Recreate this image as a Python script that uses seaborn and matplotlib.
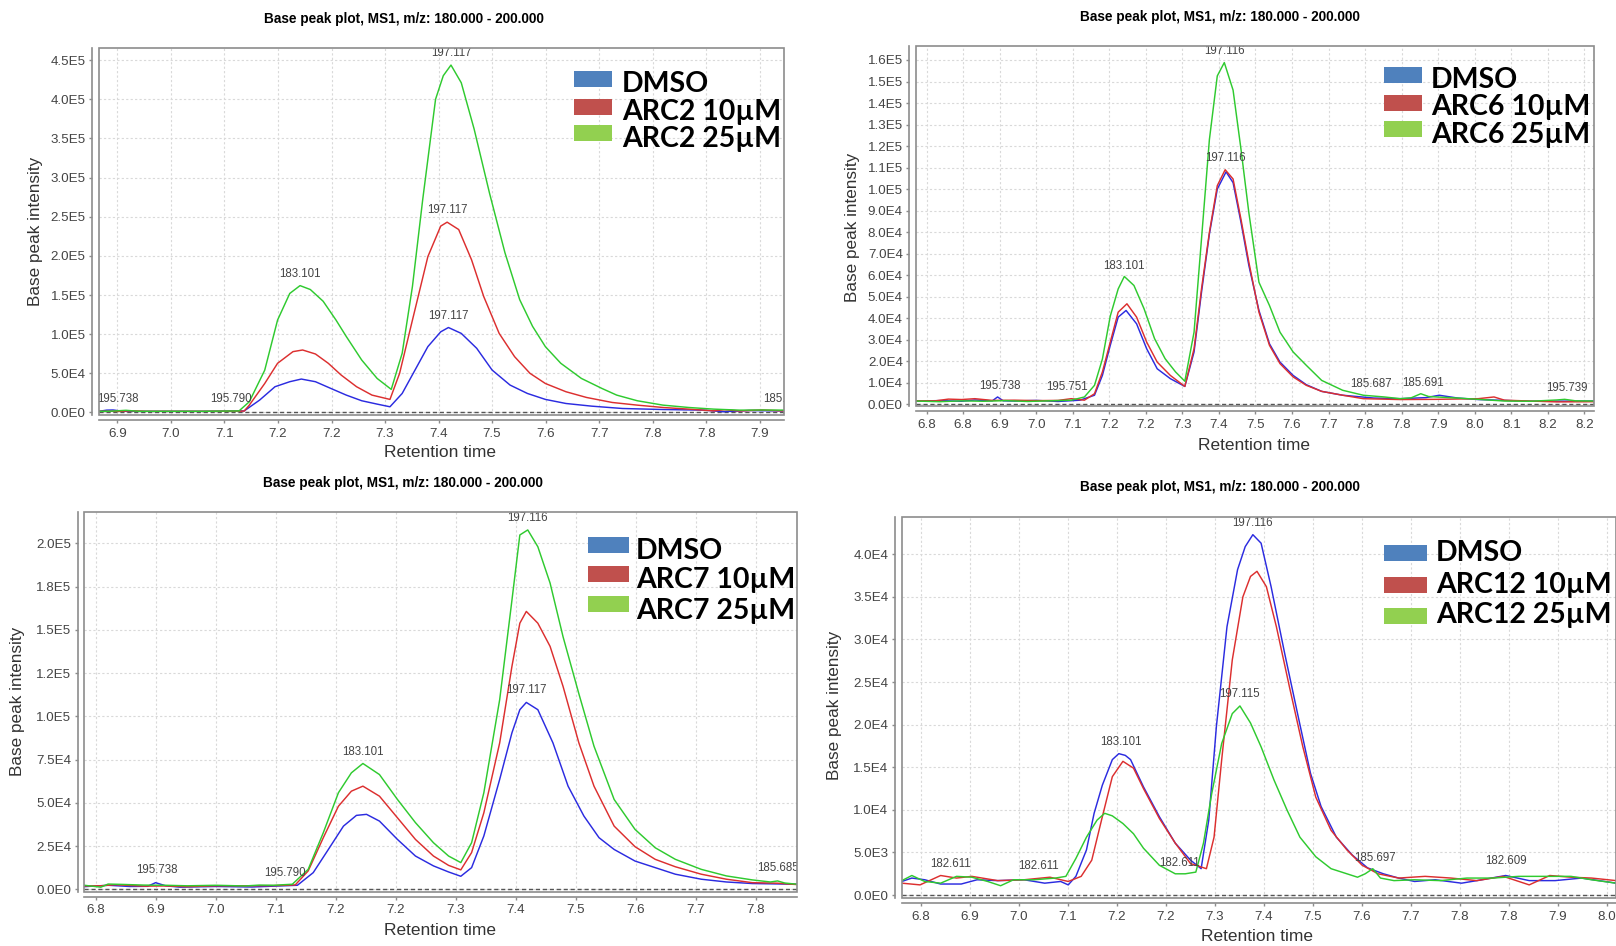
import matplotlib

matplotlib.use("Agg")
import matplotlib.pyplot as plt
import numpy as np
import pandas as pd
import seaborn as sns
from matplotlib.patches import Rectangle

W, H = 1616, 946
TITLE = "Base peak plot, MS1, m/z: 180.000 - 200.000"
LINE_COLORS = ["#2b2be0", "#dc2f2f", "#2fca2f"]
LEGEND_COLORS = ["#4f81bd", "#c0504d", "#92d050"]

# ---- ARC2 panel (intensities in thousands) ----
arc2_legend = ["DMSO", "ARC2 10µM", "ARC2 25µM"]
arc2_dmso_t = [6.888, 6.9, 6.91, 6.925, 6.95, 7.0, 7.05, 7.114, 7.138, 7.162, 7.185, 7.203, 7.225, 7.249,
               7.273, 7.297, 7.321, 7.341, 7.360, 7.380, 7.400, 7.420, 7.432, 7.452, 7.476, 7.500, 7.528,
               7.555, 7.583, 7.615, 7.655, 7.703, 7.766, 7.830, 7.86, 7.9, 7.954]
arc2_dmso_k = [1.5, 3.0, 3.2, 1.5, 1.5, 1.5, 1.5, 2.0, 15.8, 32.9, 39.3, 42.7, 39.3, 30.7,
               22.2, 15.0, 10.7, 7.3, 24.3, 54.2, 84.1, 103, 108.5, 101, 82, 54.2, 35,
               24.3, 16.7, 11.5, 8.1, 5.1, 3.8, 3.0, 1.0, 2.5, 2.0]
arc2_10_t = [6.888, 6.92, 6.94, 6.96, 7.0, 7.05, 7.114, 7.122, 7.146, 7.166, 7.190, 7.205, 7.225, 7.245,
             7.265, 7.289, 7.313, 7.341, 7.356, 7.376, 7.400, 7.420, 7.430, 7.448, 7.468, 7.487, 7.511,
             7.535, 7.559, 7.583, 7.615, 7.647, 7.687, 7.726, 7.766, 7.806, 7.845, 7.862, 7.885, 7.92, 7.954]
arc2_10_k = [1.5, 1.5, 2.2, 1.5, 1.5, 1.5, 1.8, 9.4, 37, 62.8, 77.7, 79.8, 74.7, 62.8,
             47.8, 32.9, 22.2, 16.7, 50, 118, 199, 238, 243, 233.6, 195, 148, 101,
             71.3, 50, 37, 26.5, 19.2, 12.8, 9.4, 6.4, 4.3, 2.1, 3.5, 2.0, 3.2, 2.0]
arc2_25_t = [6.888, 6.905, 6.93, 6.95, 7.0, 7.05, 7.106, 7.122, 7.146, 7.166, 7.185, 7.201, 7.217, 7.237,
             7.257, 7.273, 7.297, 7.321, 7.343, 7.360, 7.376, 7.392, 7.412, 7.424, 7.436, 7.452, 7.472,
             7.496, 7.520, 7.543, 7.563, 7.583, 7.607, 7.639, 7.671, 7.694, 7.726, 7.766, 7.806, 7.845,
             7.885, 7.92, 7.954]
arc2_25_k = [1.5, 1.6, 2.8, 1.5, 1.5, 1.5, 2.0, 13.7, 54, 118, 152, 162, 157, 142,
             118, 97, 67, 43.5, 29.5, 75.6, 161, 272, 400, 430, 443.6, 421, 362,
             280, 204, 144, 110, 84, 62.8, 43.5, 30.7, 22.2, 15, 9.4, 6.4, 4.3,
             3.0, 3.2, 3.0]
arc2_labels = ["195.738", "195.790", "183.101", "197.117", "197.117", "197.117", "185.687"]
arc2_label_t = [6.917, 7.094, 7.201, 7.436, 7.430, 7.432, 7.955]
arc2_label_k = [2.5, 1.5, 162, 443.6, 243, 108.5, 2.5]
arc2_xticks = ["6.9", "7.0", "7.1", "7.2", "7.2", "7.3", "7.4", "7.5", "7.6", "7.7", "7.8", "7.8", "7.9"]
arc2_yticks = ["0.0E0", "5.0E4", "1.0E5", "1.5E5", "2.0E5", "2.5E5", "3.0E5", "3.5E5", "4.0E5", "4.5E5"]

# ---- ARC6 panel ----
arc6_legend = ["DMSO", "ARC6 10µM", "ARC6 25µM"]
arc6_dmso_t = [6.726, 6.78, 6.83, 6.86, 6.9, 6.912, 6.925, 6.95, 7.0, 7.05, 7.1, 7.133, 7.151, 7.169,
               7.187, 7.205, 7.229, 7.252, 7.276, 7.306, 7.339, 7.360, 7.377, 7.395, 7.413, 7.433, 7.449,
               7.467, 7.485, 7.508, 7.532, 7.556, 7.586, 7.616, 7.651, 7.699, 7.770, 7.830, 7.889, 7.919,
               7.961, 8.008, 8.127, 8.276]
arc6_dmso_k = [1.5, 1.7, 1.4, 2.0, 1.6, 3.4, 1.6, 1.5, 1.8, 1.3, 1.9, 4.2, 13.4, 27.4,
               40.5, 43.6, 37.4, 25.8, 16.5, 11.9, 8.3, 24.3, 52, 79.1, 100, 108, 103,
               84.6, 64.5, 43.6, 28.1, 19.6, 13.4, 9.1, 6.0, 4.2, 2.9, 2.6, 3.1, 4.2,
               2.9, 2.2, 1.4, 1.5]
arc6_10_t = [6.726, 6.77, 6.8, 6.83, 6.86, 6.9, 6.95, 7.0, 7.05, 7.08, 7.110, 7.133, 7.151, 7.169,
             7.187, 7.207, 7.229, 7.252, 7.276, 7.306, 7.339, 7.360, 7.377, 7.395, 7.413, 7.431, 7.449,
             7.467, 7.485, 7.508, 7.532, 7.556, 7.586, 7.616, 7.651, 7.699, 7.746, 7.830, 7.913, 8.008,
             8.044, 8.068, 8.187, 8.276]
arc6_10_k = [1.6, 1.6, 2.4, 2.2, 2.6, 1.8, 1.9, 1.7, 1.8, 2.6, 1.9, 4.9, 15, 28.9,
             42.8, 46.7, 40.5, 28.9, 19.6, 13.4, 8.3, 25.8, 53.6, 79.9, 101.6, 109, 104.7,
             86, 66, 42.8, 27.4, 18.9, 12.7, 8.8, 6.0, 4.2, 2.6, 2.2, 2.3, 2.6,
             3.4, 1.9, 1.1, 1.2]
arc6_25_t = [6.726, 6.78, 6.83, 6.88, 6.93, 6.98, 7.03, 7.080, 7.110, 7.133, 7.151, 7.169, 7.187, 7.201,
             7.223, 7.246, 7.270, 7.294, 7.318, 7.339, 7.360, 7.377, 7.395, 7.413, 7.429, 7.449, 7.467,
             7.485, 7.508, 7.532, 7.556, 7.586, 7.616, 7.651, 7.699, 7.746, 7.794, 7.830, 7.855, 7.877,
             7.895, 7.913, 7.961, 8.008, 8.068, 8.127, 8.187, 8.205, 8.23, 8.276]
arc6_25_k = [1.5, 1.2, 1.6, 1.4, 1.7, 1.3, 1.6, 1.9, 3.4, 8.8, 21, 41, 53.6, 59.4,
             55.2, 44.4, 30.5, 21.2, 15, 10.7, 33.5, 76.8, 123, 152.6, 158.8, 146, 118.6,
             89, 56.7, 45.9, 33.5, 24.3, 18.1, 11.1, 6.5, 4.2, 3.4, 2.6, 3.0, 4.9,
             3.6, 3.4, 2.9, 2.3, 1.5, 1.4, 2.0, 2.3, 1.6, 1.5]
arc6_labels = ["195.738", "195.751", "183.101", "197.116", "197.116", "185.687", "185.691", "195.739"]
arc6_label_t = [6.917, 7.070, 7.201, 7.429, 7.431, 7.764, 7.883, 8.211]
arc6_label_k = [2.9, 2.5, 58.9, 158.8, 109, 4.0, 4.5, 2.0]
arc6_xticks = ["6.8", "6.8", "6.9", "7.0", "7.1", "7.2", "7.2", "7.3", "7.4", "7.5", "7.6", "7.7",
               "7.8", "7.8", "7.9", "8.0", "8.1", "8.2", "8.2"]
arc6_yticks = ["0.0E0", "1.0E4", "2.0E4", "3.0E4", "4.0E4", "5.0E4", "6.0E4", "7.0E4", "8.0E4",
               "9.0E4", "1.0E5", "1.1E5", "1.2E5", "1.3E5", "1.4E5", "1.5E5", "1.6E5"]

# ---- ARC7 panel ----
arc7_legend = ["DMSO", "ARC7 10µM", "ARC7 25µM"]
arc7_dmso_t = [6.817, 6.85, 6.88, 6.905, 6.916, 6.93, 6.95, 7.0, 7.05, 7.113, 7.135, 7.156, 7.177, 7.195,
               7.209, 7.227, 7.252, 7.277, 7.302, 7.323, 7.340, 7.355, 7.372, 7.394, 7.411, 7.422, 7.431,
               7.447, 7.468, 7.489, 7.511, 7.532, 7.553, 7.582, 7.610, 7.638, 7.674, 7.709, 7.745, 7.807]
arc7_dmso_k = [1.5, 2.3, 1.6, 1.7, 3.8, 2.0, 1.2, 1.6, 1.3, 2.3, 9.6, 23, 36.5, 42.7,
               43.3, 39.4, 28.8, 19.2, 13.5, 10.0, 7.5, 12.5, 30.8, 63.5, 90.4, 103.8, 108,
               103.8, 84.6, 59.6, 42.3, 29.8, 23, 16.3, 12.5, 8.7, 5.8, 4.2, 3.3, 2.9]
arc7_10_t = [6.817, 6.84, 6.86, 6.9, 6.93, 6.96, 7.0, 7.04, 7.08, 7.110, 7.128, 7.149, 7.170, 7.188,
             7.204, 7.227, 7.252, 7.277, 7.302, 7.323, 7.340, 7.355, 7.372, 7.394, 7.411, 7.422, 7.431,
             7.447, 7.464, 7.482, 7.504, 7.525, 7.553, 7.582, 7.610, 7.638, 7.674, 7.709, 7.745, 7.780,
             7.807]
arc7_10_k = [1.9, 2.0, 2.6, 1.8, 1.9, 1.5, 2.0, 2.0, 2.1, 2.5, 10.6, 29.8, 48, 56.7,
             59.6, 53.8, 41.3, 28.8, 19.2, 13.8, 11.2, 21.2, 44.2, 84.6, 128.8, 153.8, 160.6,
             153.8, 140.4, 117.3, 84.6, 59.6, 36.5, 24.6, 17.3, 13, 8.7, 5.8, 3.8, 3.5,
             2.7]
arc7_25_t = [6.817, 6.84, 6.85, 6.87, 6.9, 6.93, 6.96, 7.0, 7.04, 7.06, 7.08, 7.106, 7.128, 7.149,
             7.170, 7.188, 7.204, 7.227, 7.252, 7.277, 7.302, 7.323, 7.340, 7.355, 7.372, 7.394, 7.411,
             7.422, 7.433, 7.447, 7.464, 7.482, 7.504, 7.525, 7.553, 7.582, 7.610, 7.638, 7.674, 7.709,
             7.745, 7.770, 7.780, 7.790, 7.807]
arc7_25_k = [2.3, 1.2, 3.0, 2.8, 2.4, 2.3, 2.0, 2.3, 1.9, 2.4, 2.3, 2.9, 11.5, 32.7,
             55.8, 67.3, 72.7, 66.3, 51.9, 38.5, 26.9, 19.2, 15.4, 26.9, 55.8, 109.6, 167,
             204.8, 207.7, 198, 177, 146, 113, 82.7, 51.9, 34.6, 24, 17.3, 11.5, 7.7,
             5.4, 4.2, 4.8, 3.6, 2.9]
arc7_labels = ["195.738", "195.790", "183.101", "197.116", "197.117", "185.685"]
arc7_label_t = [6.918, 7.096, 7.204, 7.433, 7.431, 7.781]
arc7_label_k = [4.0, 2.7, 72.7, 207.7, 108, 5.6]
arc7_xticks = ["6.8", "6.9", "7.0", "7.1", "7.2", "7.2", "7.3", "7.4", "7.5", "7.6", "7.7", "7.8"]
arc7_yticks = ["0.0E0", "2.5E4", "5.0E4", "7.5E4", "1.0E5", "1.2E5", "1.5E5", "1.8E5", "2.0E5"]

# ---- ARC12 panel ----
arc12_legend = ["DMSO", "ARC12 10µM", "ARC12 25µM"]
arc12_dmso_t = [6.801, 6.818, 6.840, 6.867, 6.902, 6.929, 6.964, 7.009, 7.044, 7.071, 7.084, 7.097, 7.115,
                7.128, 7.142, 7.159, 7.170, 7.181, 7.190, 7.212, 7.239, 7.266, 7.292, 7.310, 7.323, 7.336,
                7.354, 7.372, 7.385, 7.398, 7.412, 7.429, 7.452, 7.474, 7.496, 7.514, 7.540, 7.567, 7.593,
                7.620, 7.646, 7.673, 7.708, 7.753, 7.779, 7.828, 7.868, 7.912, 7.957, 8.016]
arc12_dmso_k = [1.6, 2.0, 1.8, 1.3, 1.3, 1.8, 1.7, 1.8, 1.4, 1.6, 1.2, 2.2, 5.3,
                9.6, 12.9, 15.9, 16.6, 16.4, 15.9, 12.7, 9.2, 6.1, 4.1, 3.1, 8.8, 19.8,
                31.5, 38.2, 40.9, 42.3, 41.3, 36.2, 28.4, 21.3, 14.3, 10.4, 6.8, 4.7, 3.2,
                2.5, 2.0, 1.6, 1.8, 1.4, 1.7, 2.3, 1.7, 1.7, 2.0, 1.4]
arc12_10_t = [6.801, 6.832, 6.867, 6.894, 6.920, 6.964, 7.009, 7.053, 7.084, 7.106, 7.124, 7.142, 7.159,
              7.177, 7.195, 7.212, 7.239, 7.266, 7.292, 7.319, 7.332, 7.345, 7.363, 7.381, 7.394, 7.405,
              7.421, 7.438, 7.460, 7.483, 7.505, 7.531, 7.558, 7.584, 7.611, 7.646, 7.691, 7.735, 7.779,
              7.824, 7.868, 7.903, 7.939, 7.974, 8.016]
arc12_10_k = [1.4, 1.2, 2.3, 2.0, 2.2, 1.7, 1.8, 2.1, 1.6, 2.2, 4.1, 9.2, 13.9,
              15.7, 14.9, 12.5, 9.0, 6.1, 3.7, 3.1, 6.8, 15.9, 27.6, 35.0, 37.4, 38.0,
              36.2, 31.5, 24.5, 17.4, 11.5, 7.6, 5.3, 3.5, 2.5, 2.0, 2.2, 2.0, 1.7,
              2.2, 1.2, 2.3, 2.1, 2.0, 1.7]
arc12_25_t = [6.801, 6.818, 6.840, 6.867, 6.894, 6.920, 6.947, 6.969, 6.991, 7.026, 7.062, 7.080, 7.097,
              7.115, 7.133, 7.146, 7.159, 7.177, 7.195, 7.212, 7.239, 7.266, 7.283, 7.301, 7.314, 7.328,
              7.345, 7.363, 7.376, 7.394, 7.412, 7.434, 7.456, 7.478, 7.505, 7.531, 7.558, 7.576, 7.589,
              7.602, 7.615, 7.638, 7.673, 7.717, 7.762, 7.806, 7.850, 7.894, 7.939, 7.974, 8.016]
arc12_25_k = [1.7, 2.3, 1.6, 1.4, 2.2, 2.1, 1.6, 1.1, 1.8, 1.8, 2.0, 2.2, 4.3,
              6.8, 8.8, 9.6, 9.3, 8.4, 7.2, 5.5, 3.5, 2.5, 2.5, 2.7, 6.1, 11.9,
              17.8, 21.3, 22.2, 20.2, 17.4, 13.5, 10.0, 6.8, 4.5, 3.1, 2.5, 2.1, 2.5,
              3.1, 2.0, 1.7, 1.8, 1.7, 2.0, 2.0, 2.2, 2.2, 2.2, 1.8, 1.4]
arc12_labels = ["182.611", "182.611", "183.101", "197.116", "197.115", "182.611", "185.697", "182.609"]
arc12_label_t = [6.883, 7.034, 7.173, 7.398, 7.376, 7.274, 7.605, 7.828]
arc12_label_k = [2.2, 2.0, 16.6, 42.3, 22.2, 2.4, 3.0, 2.6]
arc12_xticks = ["6.8", "6.9", "7.0", "7.1", "7.2", "7.2", "7.3", "7.4", "7.5", "7.6", "7.7", "7.8",
                "7.8", "7.9", "8.0"]
arc12_yticks = ["0.0E0", "5.0E3", "1.0E4", "1.5E4", "2.0E4", "2.5E4", "3.0E4", "3.5E4", "4.0E4"]

panels = [
    dict(series=[(arc2_dmso_t, arc2_dmso_k), (arc2_10_t, arc2_10_k), (arc2_25_t, arc2_25_k)],
         legend=arc2_legend, labels=(arc2_labels, arc2_label_t, arc2_label_k),
         xticks=arc2_xticks, xtick0=83, yticks=arc2_yticks, ystep=5e4,
         box=(99, 48.3, 783.7, 415), xlim=(6.888, 7.954), ylim=(-3.2e3, 4.65e5),
         title=(404, 19.5), ylab=(36, 231), xlab=(440, 452),
         leg=dict(x=574, w=38, h=16, tops=[71, 99, 125], tx=622, base=[92, 120, 147])),
    dict(series=[(arc6_dmso_t, arc6_dmso_k), (arc6_10_t, arc6_10_k), (arc6_25_t, arc6_25_k)],
         legend=arc6_legend, labels=(arc6_labels, arc6_label_t, arc6_label_k),
         xticks=arc6_xticks, xtick0=81, yticks=arc6_yticks, ystep=1e4,
         box=(916, 45.7, 1594, 406), xlim=(6.726, 8.272), ylim=(-0.8e3, 1.6664e5),
         title=(1220, 17.5), ylab=(853, 227), xlab=(1254, 445),
         leg=dict(x=1384, w=38, h=16, tops=[67, 95, 121], tx=1431, base=[87.5, 115, 143])),
    dict(series=[(arc7_dmso_t, arc7_dmso_k), (arc7_10_t, arc7_10_k), (arc7_25_t, arc7_25_k)],
         legend=arc7_legend, labels=(arc7_labels, arc7_label_t, arc7_label_k),
         xticks=arc7_xticks, xtick0=82, yticks=arc7_yticks, ystep=2.5e4,
         box=(84.3, 512.3, 797, 891.5), xlim=(6.817, 7.807), ylim=(-1.3e3, 2.179e5),
         title=(403, 482.5), ylab=(18, 701), xlab=(440, 930),
         leg=dict(x=588, w=41, h=16, tops=[537, 566, 596], tx=636, base=[559, 588, 619])),
    dict(series=[(arc12_dmso_t, arc12_dmso_k), (arc12_10_t, arc12_10_k), (arc12_25_t, arc12_25_k)],
         legend=arc12_legend, labels=(arc12_labels, arc12_label_t, arc12_label_k),
         xticks=arc12_xticks, xtick0=82, yticks=arc12_yticks, ystep=5e3,
         box=(901.6, 516.7, 1616, 898), xlim=(6.8006, 8.0156), ylim=(-0.34e3, 4.441e4),
         title=(1220, 486.5), ylab=(835, 705), xlab=(1257, 936),
         leg=dict(x=1384, w=43, h=16, tops=[545, 577, 608], tx=1436, base=[561, 592.5, 623])),
]

sns.set_theme(style="white")
plt.rcParams["font.family"] = ["Liberation Sans", "DejaVu Sans"]
LEGEND_FONT = ["Lato", "DejaVu Sans"]
AXIS_GRAY = "#8c8c8c"

fig = plt.figure(figsize=(W / 100, H / 100), dpi=100, facecolor="white")


def fx(x):
    return x / W


def fy(y):
    return 1 - y / H


for p in panels:
    left, top, right, bottom = p["box"]
    ax = fig.add_axes([fx(left), fy(bottom), (right - left) / W, (bottom - top) / H])

    rows = []
    for name, (t, k) in zip(p["legend"], p["series"]):
        rows.append(pd.DataFrame({"time": t, "intensity": np.array(k) * 1000, "sample": name}))
    df = pd.concat(rows, ignore_index=True)

    # zero baseline (dashed, drawn under the traces)
    ax.axhline(0, color="#555555", lw=1.0, ls=(0, (3, 2)), zorder=1)

    sns.lineplot(data=df, x="time", y="intensity", hue="sample", hue_order=p["legend"],
                 palette=LINE_COLORS, estimator=None, legend=False, linewidth=1.05, ax=ax, zorder=3)

    # peak / m/z labels
    for txt, t, k in zip(*p["labels"]):
        ax.annotate(txt, (t, k * 1000), xytext=(0, 8.6), textcoords="offset points",
                    ha="center", va="center", fontsize=8.3, color="#444444",
                    clip_on=True, annotation_clip=False, zorder=4)

    ax.set_xlim(*p["xlim"])
    ax.set_ylim(*p["ylim"])
    xt = [(p["xtick0"] + i) / 12 for i in range(len(p["xticks"]))]
    ax.set_xticks(xt)
    ax.set_xticklabels(p["xticks"])
    yt = [i * p["ystep"] for i in range(len(p["yticks"]))]
    ax.set_yticks(yt)
    ax.set_yticklabels(p["yticks"])
    ax.set_xlabel("")
    ax.set_ylabel("")

    ax.grid(True, color="#d9d9d9", lw=0.8, ls=(0, (2, 2)))
    ax.set_axisbelow(True)
    for side in ["top", "right"]:
        ax.spines[side].set_visible(False)
    ax.spines["left"].set_position(("outward", 4.8))
    ax.spines["bottom"].set_position(("outward", 3.6))
    for side in ["left", "bottom"]:
        ax.spines[side].set_color(AXIS_GRAY)
        ax.spines[side].set_linewidth(1.2)
    ax.add_patch(Rectangle((0, 0), 1, 1, transform=ax.transAxes, fill=False,
                           ec=AXIS_GRAY, lw=1.2, clip_on=False, zorder=5))
    ax.tick_params(axis="both", direction="out", length=2.5, width=1, color=AXIS_GRAY,
                   labelcolor="#444444", labelsize=9.6, left=True, bottom=True)
    ax.tick_params(axis="y", pad=2.2)
    ax.tick_params(axis="x", pad=3)

    tx, ty = p["title"]
    fig.text(fx(tx), fy(ty), TITLE, ha="center", va="center", fontsize=9.8,
             fontweight="bold", color="black")
    lx, ly = p["ylab"]
    fig.text(fx(lx), fy(ly), "Base peak intensity", ha="center", va="center", rotation=90,
             fontsize=12.3, color="#333333")
    xx, xy = p["xlab"]
    fig.text(fx(xx), fy(xy), "Retention time", ha="center", va="center", fontsize=12.5,
             color="#333333")

    lg = p["leg"]
    for i, name in enumerate(p["legend"]):
        fig.add_artist(Rectangle((fx(lg["x"]), fy(lg["tops"][i] + lg["h"])), lg["w"] / W, lg["h"] / H,
                                 transform=fig.transFigure, color=LEGEND_COLORS[i], lw=0))
        fig.text(fx(lg["tx"]), fy(lg["base"][i]), name, ha="left", va="baseline",
                 fontsize=20.5, fontweight="bold", family=LEGEND_FONT, color="black")

fig.savefig("out.png", dpi=100, facecolor="white")
